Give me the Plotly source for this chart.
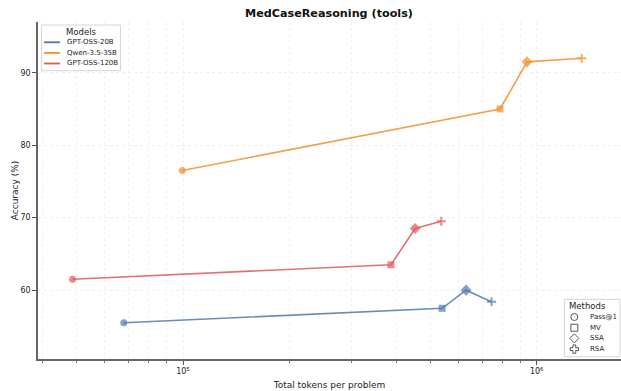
import plotly.graph_objects as go

# Methods evaluated per model (x: total tokens per problem, y: accuracy %)
methods = ["Pass@1", "MV", "SSA", "RSA"]
models = ["GPT-OSS-20B", "Qwen-3.5-35B", "GPT-OSS-120B"]

gpt20_tokens = [68000, 540000, 631000, 745000]
gpt20_acc = [55.5, 57.5, 60.0, 58.4]

qwen35_tokens = [99500, 787000, 939000, 1340000]
qwen35_acc = [76.5, 85.0, 91.5, 92.0]

gpt120_tokens = [48700, 387000, 453000, 537000]
gpt120_acc = [61.5, 63.5, 68.5, 69.5]

colors = ["#4e79a7", "#f28e2b", "#e15759"]
line_colors = ["rgba(78,121,167,0.85)", "rgba(242,142,43,0.85)", "rgba(225,87,89,0.85)"]
symbols = ["circle", "square", "diamond", "cross-thin"]
open_symbols = ["circle-open", "square-open", "diamond-open", "cross-open"]
sizes = [7, 7, 8.5, 6.5]
edge_widths = [0, 0, 0, 2]

series = [
    (gpt20_tokens, gpt20_acc),
    (qwen35_tokens, qwen35_acc),
    (gpt120_tokens, gpt120_acc),
]

W, H = 621, 391
L, R, T, B = 37.5, 0, 22, 32
PW, PH = W - L - R, H - T - B


def px(x):
    """Horizontal pixel -> fraction of the plot area."""
    return (x - L) / PW


def py(y):
    """Vertical pixel (from top) -> fraction of the plot area."""
    return (H - B - y) / PH


fig = go.Figure()

for name, color, lc, (xs, ys) in zip(models, colors, line_colors, series):
    fig.add_trace(go.Scatter(
        x=xs, y=ys, mode="lines+markers", name=name,
        line=dict(color=lc, width=1.6),
        marker=dict(symbol=symbols, size=sizes, color=color,
                    line=dict(width=edge_widths, color=color)),
        showlegend=False, hoverinfo="x+y",
    ))

annotations = []


def legend_box(x0, x1, y0, y1):
    """White framed legend panel on the unit-range overlay axes."""
    fig.add_trace(go.Scatter(
        x=[px(x0), px(x1), px(x1), px(x0), px(x0)],
        y=[py(y0), py(y0), py(y1), py(y1), py(y0)],
        mode="lines", fill="toself", fillcolor="rgba(255,255,255,0.95)",
        line=dict(color="#d4d4d4", width=1),
        xaxis="x2", yaxis="y2", showlegend=False, hoverinfo="skip",
    ))


# ---- "Models" legend ----
legend_box(41, 120, 25, 70.7)
annotations.append(dict(text="Models", xref="paper", yref="paper",
                        x=px(81), y=py(31.5), showarrow=False,
                        xanchor="center", yanchor="middle",
                        font=dict(size=8.5, color="#222222")))
for i, (name, color) in enumerate(zip(models, colors)):
    yy = 42.3 + i * 10.6
    fig.add_trace(go.Scatter(
        x=[px(43.5), px(59.5)], y=[py(yy), py(yy)], mode="lines",
        line=dict(color=color, width=1.8),
        xaxis="x2", yaxis="y2", showlegend=False, hoverinfo="skip",
    ))
    annotations.append(dict(text=name, xref="paper", yref="paper",
                            x=px(65), y=py(yy), showarrow=False,
                            xanchor="left", yanchor="middle",
                            font=dict(size=7, color="#222222")))

# ---- "Methods" legend ----
legend_box(564.3, 620, 299.3, 356.7)
annotations.append(dict(text="Methods", xref="paper", yref="paper",
                        x=px(587.5), y=py(306), showarrow=False,
                        xanchor="center", yanchor="middle",
                        font=dict(size=8.5, color="#222222")))
marker_y = []
for i, m in enumerate(methods):
    yy = 317 + i * 10.7
    marker_y.append(py(yy))
    annotations.append(dict(text=m, xref="paper", yref="paper",
                            x=px(587.5), y=py(yy), showarrow=False,
                            xanchor="left", yanchor="middle",
                            font=dict(size=7, color="#222222")))

fig.add_trace(go.Scatter(
    x=[px(574.3)] * len(methods), y=marker_y, mode="markers",
    marker=dict(symbol=open_symbols, size=7, color="#555555",
                line=dict(width=1, color="#555555")),
    xaxis="x2", yaxis="y2", showlegend=False, hoverinfo="skip",
    cliponaxis=False,
))

minor_x = [k * 10 ** e for e in (4, 5, 6) for k in range(2, 10)
           if 38000 < k * 10 ** e < 1.8e6]

grid = "#efefef"

fig.update_layout(
    width=W, height=H,
    margin=dict(l=L, r=R, t=T, b=B),
    paper_bgcolor="white", plot_bgcolor="white",
    font=dict(family="DejaVu Sans", size=9, color="#222222"),
    showlegend=False,
    title=dict(text="<b>MedCaseReasoning (tools)</b>", x=329 / W,
               xanchor="center", y=1 - 13.5 / H, yanchor="middle",
               font=dict(size=11.2, color="#111111")),
    xaxis=dict(
        type="log", range=[4.59, 6.238],
        tickvals=[1e5, 1e6], ticktext=["10<sup>5</sup>", "10<sup>6</sup>"],
        ticks="outside", ticklen=4, tickcolor="#555555", tickwidth=1,
        tickfont=dict(size=8),
        showline=True, linecolor="#666666", linewidth=1.5,
        showgrid=True, gridcolor=grid, griddash="dot", gridwidth=1,
        zeroline=False,
        minor=dict(tickvals=minor_x, ticks="outside", ticklen=2.5,
                   tickcolor="#777777", showgrid=True, gridcolor=grid,
                   griddash="dot"),
        title=dict(text="Total tokens per problem", font=dict(size=9), standoff=6),
    ),
    yaxis=dict(
        range=[50.5, 97.0], tickvals=[60, 70, 80, 90],
        ticks="outside", ticklen=4, tickcolor="#555555", tickwidth=1,
        tickfont=dict(size=8),
        showline=True, linecolor="#666666", linewidth=1.5,
        showgrid=True, gridcolor=grid, griddash="dot", gridwidth=1,
        zeroline=False,
        title=dict(text="Accuracy (%)", font=dict(size=9), standoff=0),
    ),
    xaxis2=dict(overlaying="x", range=[0, 1], visible=False, fixedrange=True),
    yaxis2=dict(overlaying="y", range=[0, 1], visible=False, fixedrange=True),
    annotations=annotations,
)

fig.write_html("out.html")
